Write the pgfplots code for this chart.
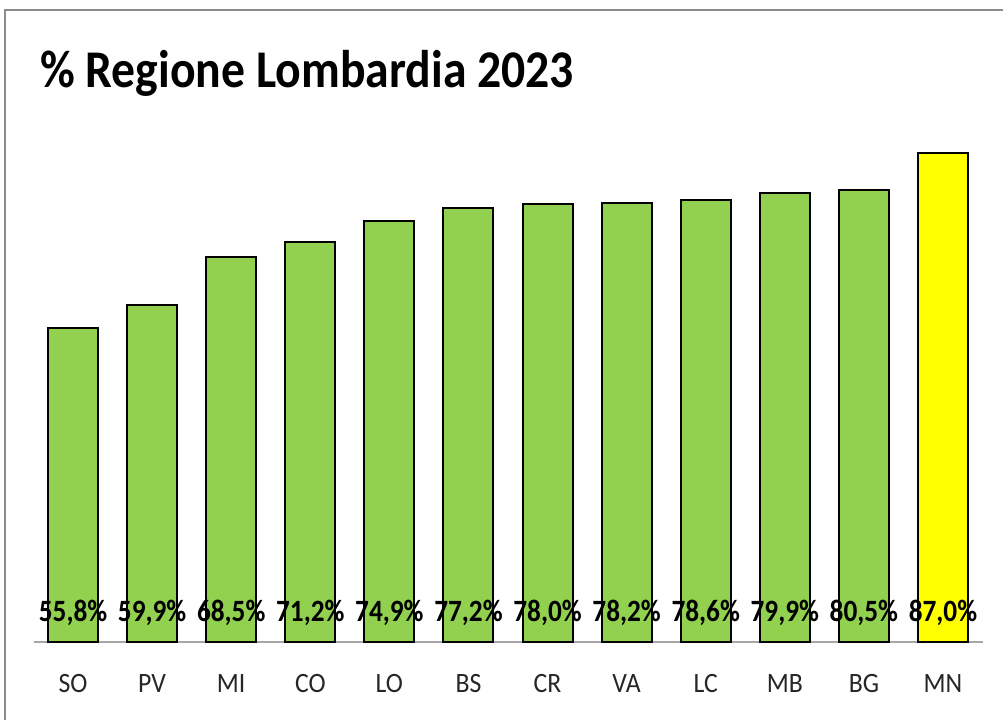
\documentclass[border=0pt]{standalone}
\usepackage{fontspec}
\setmainfont{Carlito}
\newfontfamily\titlefont[FakeStretch=0.9]{Carlito}
\newfontfamily\labfont[FakeStretch=0.88]{Carlito}
\newfontfamily\tickfont[FakeStretch=0.92]{Carlito}
\usepackage{pgfplots}
\pgfplotsset{compat=1.18}
\definecolor{barGreen}{HTML}{92D050}
\definecolor{barYellow}{HTML}{FFFF00}
\definecolor{frameGray}{HTML}{8C8C8C}
\definecolor{axisGray}{HTML}{A6A6A6}
\definecolor{tickText}{HTML}{262626}
\begin{document}
\begin{tikzpicture}
\path[use as bounding box] (0,0) rectangle (1003bp,720bp);
\draw[frameGray, line width=1.2bp] (5bp,-5bp) -- (5bp,710bp) -- (1010bp,710bp);
\node[anchor=base west, font=\titlefont\bfseries\fontsize{53bp}{60bp}\selectfont, inner sep=0pt] at (40bp,632bp) {\% Regione Lombardia 2023};
\begin{axis}[
  at={(33.5bp,78bp)}, anchor=south west,
  scale only axis, width=949bp, height=562bp,
  xmin=-0.5, xmax=11.5, ymin=0, ymax=100,
  axis y line=none,
  axis x line*=bottom,
  x axis line style={axisGray, line width=1.2bp},
  xtick={0,...,11},
  xticklabels={SO,PV,MI,CO,LO,BS,CR,VA,LC,MB,BG,MN},
  major tick length=0pt,
  xticklabel style={anchor=base, yshift=-50bp, font=\tickfont\fontsize{28bp}{32bp}\selectfont, text=tickText},
  ytick=\empty,
  clip=false,
  /pgf/number format/assume math mode=true,
]
\addplot[ybar, bar width=50bp, bar shift=0pt, fill=barGreen, draw=black, line width=2bp]
  coordinates {(0,55.8) (1,59.9) (2,68.5) (3,71.2) (4,74.9) (5,77.2) (6,78.0) (7,78.2) (8,78.6) (9,79.9) (10,80.5)};
\addplot[ybar, bar width=50bp, bar shift=0pt, fill=barYellow, draw=black, line width=2bp]
  coordinates {(11,87.0)};
\addplot[draw=none, mark=none, point meta=explicit,
  nodes near coords={\pgfmathprintnumber[fixed,fixed zerofill,precision=1,use comma]{\pgfplotspointmeta}\%},
  every node near coord/.append style={anchor=base, yshift=21bp, inner sep=0pt, font=\labfont\bfseries\fontsize{31bp}{35bp}\selectfont, text=black}]
  coordinates {(0,0) [55.8] (1,0) [59.9] (2,0) [68.5] (3,0) [71.2] (4,0) [74.9] (5,0) [77.2] (6,0) [78.0] (7,0) [78.2] (8,0) [78.6] (9,0) [79.9] (10,0) [80.5] (11,0) [87.0]};
\end{axis}
\end{tikzpicture}
\end{document}
